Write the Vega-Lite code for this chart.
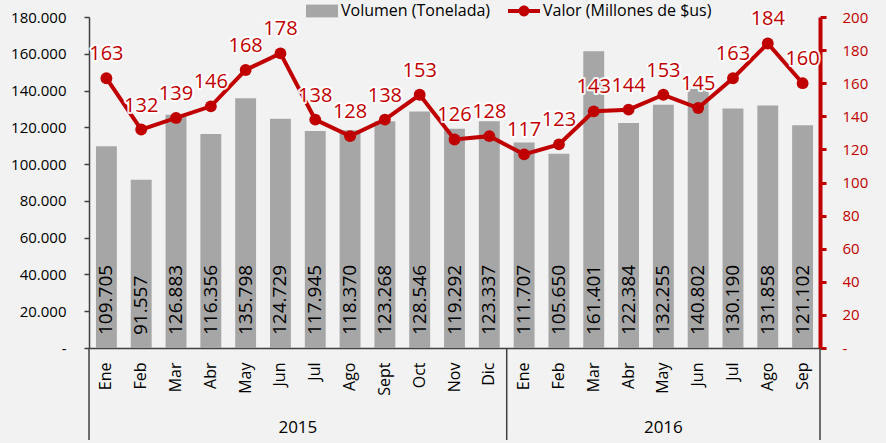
{
  "$schema": "https://vega.github.io/schema/vega-lite/v6.json",
  "autosize": "none",
  "width": 731,
  "height": 331,
  "padding": {"left": 89, "top": 17, "right": 66, "bottom": 95},
  "background": "#f2f2f2",
  "data": {"values": [
    {"key": "Ene 2015", "year": "2015", "vol": 109705, "val": 163},
    {"key": "Feb 2015", "year": "2015", "vol": 91557, "val": 132},
    {"key": "Mar 2015", "year": "2015", "vol": 126883, "val": 139},
    {"key": "Abr 2015", "year": "2015", "vol": 116356, "val": 146},
    {"key": "May 2015", "year": "2015", "vol": 135798, "val": 168},
    {"key": "Jun 2015", "year": "2015", "vol": 124729, "val": 178},
    {"key": "Jul 2015", "year": "2015", "vol": 117945, "val": 138},
    {"key": "Ago 2015", "year": "2015", "vol": 118370, "val": 128},
    {"key": "Sept 2015", "year": "2015", "vol": 123268, "val": 138},
    {"key": "Oct 2015", "year": "2015", "vol": 128546, "val": 153},
    {"key": "Nov 2015", "year": "2015", "vol": 119292, "val": 126},
    {"key": "Dic 2015", "year": "2015", "vol": 123337, "val": 128},
    {"key": "Ene 2016", "year": "2016", "vol": 111707, "val": 117},
    {"key": "Feb 2016", "year": "2016", "vol": 105650, "val": 123},
    {"key": "Mar 2016", "year": "2016", "vol": 161401, "val": 143},
    {"key": "Abr 2016", "year": "2016", "vol": 122384, "val": 144},
    {"key": "May 2016", "year": "2016", "vol": 132255, "val": 153},
    {"key": "Jun 2016", "year": "2016", "vol": 140802, "val": 145},
    {"key": "Jul 2016", "year": "2016", "vol": 130190, "val": 163},
    {"key": "Ago 2016", "year": "2016", "vol": 131858, "val": 184},
    {"key": "Sep 2016", "year": "2016", "vol": 121102, "val": 160}
  ]},
  "config": {
    "font": "Open Sans",
    "view": {"stroke": null},
    "locale": {"number": {"decimal": ",", "thousands": ".", "grouping": [3], "currency": ["$", ""]}},
    "axisX": {
      "title": null, "labelExpr": "split(datum.label, ' ')[0]", "labelAngle": 270,
      "labelAlign": "right", "labelBaseline": "middle", "labelFontSize": 16,
      "labelColor": "#000000", "labelPadding": 14, "ticks": false, "labelOverlap": false,
      "domainColor": "#404040", "domainWidth": 1.5, "grid": false
    },
    "axisLeft": {
      "title": null, "grid": false,
      "domainColor": "#404040", "domainWidth": 1.5, "tickColor": "#404040",
      "tickSize": 5, "tickWidth": 1.5, "labelFontSize": 15, "labelColor": "#000000", "labelPadding": 18
    },
    "axisRight": {
      "title": null, "grid": false,
      "domainColor": "#c00000", "domainWidth": 4, "tickColor": "#c00000",
      "tickSize": 6, "tickWidth": 3, "labelFontSize": 15, "labelColor": "#c00000", "labelPadding": 16
    }
  },
  "layer": [
    {
      "layer": [
        {
          "mark": {"type": "bar", "width": {"band": 0.6}},
          "encoding": {
            "x": {"field": "key", "type": "ordinal", "sort": null, "scale": {"paddingInner": 0, "paddingOuter": 0}, "axis": {"title": null}},
            "y": {
              "field": "vol", "type": "quantitative", "scale": {"domain": [0, 180000], "nice": false},
              "axis": {"orient": "left", "title": null, "values": [0, 20000, 40000, 60000, 80000, 100000, 120000, 140000, 160000, 180000], "format": ",.0f", "labelExpr": "datum.value == 0 ? '-\u00a0\u00a0' : datum.label"}
            },
            "color": {
              "datum": "Volumen (Tonelada)",
              "scale": {"domain": ["Volumen (Tonelada)", "Valor (Millones de $us)"], "range": ["#a6a6a6", "#c00000"]},
              "legend": {
                "orient": "none", "legendX": 217, "legendY": -22, "direction": "horizontal", "title": null,
                "labelFontSize": 16, "labelColor": "#000000", "labelLimit": 400, "symbolSize": 1024, "columnPadding": 17,
                "labelOffset": 3, "symbolOpacity": 1, "symbolStrokeWidth": 0,
                "encode": {"symbols": {"update": {
                  "shape": {"signal": "datum.value === 'Volumen (Tonelada)' ? 'M-1,-0.4H1V0.4H-1Z' : 'M-1,-0.125H1V0.125H-1Z M-0.34,0A0.34,0.34 0 1,1 0.34,0A0.34,0.34 0 1,1 -0.34,0Z'"},
                  "fill": {"signal": "datum.value === 'Volumen (Tonelada)' ? '#a6a6a6' : '#c00000'"},
                  "strokeWidth": {"value": 0}
                }}}
              }
            }
          }
        },
        {
          "mark": {"type": "text", "angle": 270, "align": "left", "baseline": "middle", "dx": 13, "fontSize": 19, "color": "#000000"},
          "encoding": {
            "x": {"field": "key", "type": "ordinal", "sort": null, "axis": {"title": null}},
            "y": {"datum": 0, "type": "quantitative", "axis": {"orient": "left", "title": null, "values": [0, 20000, 40000, 60000, 80000, 100000, 120000, 140000, 160000, 180000], "format": ",.0f", "labelExpr": "datum.value == 0 ? '-\u00a0\u00a0' : datum.label"}},
            "text": {"field": "vol", "type": "quantitative", "format": ",.0f"}
          }
        },
        {
          "transform": [{"filter": "datum.key == 'Ene 2015' || datum.key == 'Ene 2016'"}],
          "mark": {"type": "rule", "color": "#404040", "strokeWidth": 1.5},
          "encoding": {
            "x": {"field": "key", "type": "ordinal", "sort": null, "bandPosition": 0, "axis": {"title": null}},
            "y": {"datum": 0, "type": "quantitative", "axis": {"orient": "left", "title": null, "values": [0, 20000, 40000, 60000, 80000, 100000, 120000, 140000, 160000, 180000], "format": ",.0f", "labelExpr": "datum.value == 0 ? '-\u00a0\u00a0' : datum.label"}},
            "y2": {"datum": -50000}
          }
        },
        {
          "transform": [{"filter": "datum.key == 'Sep 2016'"}],
          "mark": {"type": "rule", "color": "#404040", "strokeWidth": 1.5},
          "encoding": {
            "x": {"field": "key", "type": "ordinal", "sort": null, "bandPosition": 1, "axis": {"title": null}},
            "y": {"datum": 0, "type": "quantitative", "axis": {"orient": "left", "title": null, "values": [0, 20000, 40000, 60000, 80000, 100000, 120000, 140000, 160000, 180000], "format": ",.0f", "labelExpr": "datum.value == 0 ? '-\u00a0\u00a0' : datum.label"}},
            "y2": {"datum": -50000}
          }
        },
        {
          "transform": [{"filter": "datum.key == 'Jun 2015'"}],
          "mark": {"type": "text", "fontSize": 17, "color": "#000000", "baseline": "middle"},
          "encoding": {
            "x": {"field": "key", "type": "ordinal", "sort": null, "bandPosition": 1, "axis": {"title": null}},
            "y": {"datum": -43500, "type": "quantitative", "axis": {"orient": "left", "title": null, "values": [0, 20000, 40000, 60000, 80000, 100000, 120000, 140000, 160000, 180000], "format": ",.0f", "labelExpr": "datum.value == 0 ? '-\u00a0\u00a0' : datum.label"}},
            "text": {"field": "year"}
          }
        },
        {
          "transform": [{"filter": "datum.key == 'May 2016'"}],
          "mark": {"type": "text", "fontSize": 17, "color": "#000000", "baseline": "middle"},
          "encoding": {
            "x": {"field": "key", "type": "ordinal", "sort": null, "bandPosition": 0.5, "axis": {"title": null}},
            "y": {"datum": -43500, "type": "quantitative", "axis": {"orient": "left", "title": null, "values": [0, 20000, 40000, 60000, 80000, 100000, 120000, 140000, 160000, 180000], "format": ",.0f", "labelExpr": "datum.value == 0 ? '-\u00a0\u00a0' : datum.label"}},
            "text": {"field": "year"}
          }
        }
      ]
    },
    {
      "layer": [
        {
          "mark": {"type": "line", "color": "#c00000", "strokeWidth": 4},
          "encoding": {
            "x": {"field": "key", "type": "ordinal", "sort": null, "axis": {"title": null}},
            "y": {
              "field": "val", "type": "quantitative", "scale": {"domain": [0, 200], "nice": false},
              "axis": {"orient": "right", "title": null, "values": [0, 20, 40, 60, 80, 100, 120, 140, 160, 180, 200], "labelExpr": "datum.value == 0 ? '-' : datum.label"}
            }
          }
        },
        {
          "mark": {"type": "point", "filled": true, "size": 140, "opacity": 1},
          "encoding": {
            "x": {"field": "key", "type": "ordinal", "sort": null, "axis": {"title": null}},
            "y": {"field": "val", "type": "quantitative", "axis": {"orient": "right", "title": null, "values": [0, 20, 40, 60, 80, 100, 120, 140, 160, 180, 200], "labelExpr": "datum.value == 0 ? '-' : datum.label"}},
            "color": {"datum": "Valor (Millones de $us)"}
          }
        },
        {
          "mark": {"type": "text", "dy": -24, "fontSize": 20, "color": "#ffffff", "stroke": "#ffffff", "strokeWidth": 4, "strokeOpacity": 0.9, "strokeJoin": "round"},
          "encoding": {
            "x": {"field": "key", "type": "ordinal", "sort": null, "axis": {"title": null}},
            "y": {"field": "val", "type": "quantitative", "axis": {"orient": "right", "title": null, "values": [0, 20, 40, 60, 80, 100, 120, 140, 160, 180, 200], "labelExpr": "datum.value == 0 ? '-' : datum.label"}},
            "text": {"field": "val", "type": "quantitative"}
          }
        },
        {
          "mark": {"type": "text", "dy": -24, "fontSize": 20, "color": "#c00000"},
          "encoding": {
            "x": {"field": "key", "type": "ordinal", "sort": null, "axis": {"title": null}},
            "y": {"field": "val", "type": "quantitative", "axis": {"orient": "right", "title": null, "values": [0, 20, 40, 60, 80, 100, 120, 140, 160, 180, 200], "labelExpr": "datum.value == 0 ? '-' : datum.label"}},
            "text": {"field": "val", "type": "quantitative"}
          }
        }
      ]
    }
  ],
  "resolve": {"scale": {"y": "independent"}}
}
